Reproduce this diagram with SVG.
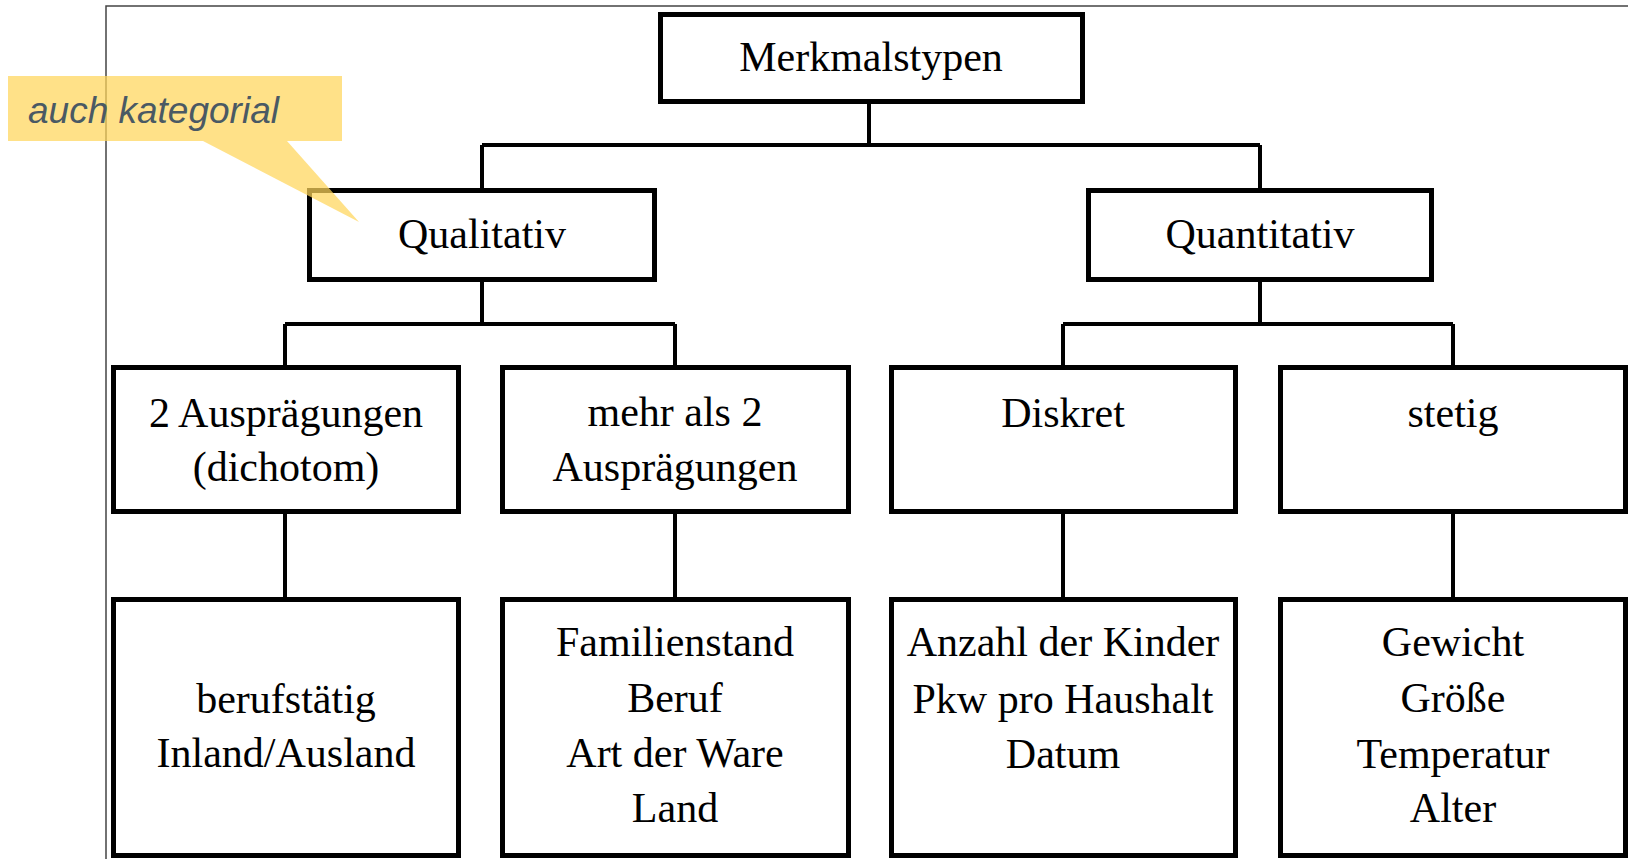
<svg xmlns="http://www.w3.org/2000/svg" width="1628" height="859" viewBox="0 0 1628 859">
<style>
.box{fill:#fff;stroke:#000;stroke-width:5}
.con{fill:none;stroke:#000;stroke-width:4}
.t{font-family:"Liberation Serif","Times New Roman",serif;font-size:42px;fill:#000;text-anchor:middle}
.frame{fill:none;stroke:#444;stroke-width:1.5}
</style>
<rect x="0" y="0" width="1628" height="859" fill="#fff"/>
<path class="frame" d="M106,859 V6 H1628"/>
<g id="connectors">
<path class="con" d="M869,104 V145 M482,145 H1260 M482,145 V188 M1260,145 V188"/>
<path class="con" d="M482,282 V324 M285,324 H675 M285,324 V365 M675,324 V365"/>
<path class="con" d="M1260,282 V324 M1063,324 H1453 M1063,324 V365 M1453,324 V365"/>
<path class="con" d="M285,514 V597 M675,514 V597 M1063,514 V597 M1453,514 V597"/>
</g>
<g id="merkmalstypen">
<rect class="box" x="660.5" y="14.5" width="422" height="87"/>
<text class="t" x="871" y="71">Merkmalstypen</text>
</g>
<g id="qualitativ">
<rect class="box" x="309.5" y="190.5" width="345" height="89"/>
<text class="t" x="482" y="248">Qualitativ</text>
</g>
<g id="quantitativ">
<rect class="box" x="1088.5" y="190.5" width="343" height="89"/>
<text class="t" x="1260" y="248">Quantitativ</text>
</g>
<g id="dichotom">
<rect class="box" x="113.5" y="367.5" width="345" height="144"/>
<text class="t" x="286" y="427">2 Ausprägungen</text>
<text class="t" x="286" y="481">(dichotom)</text>
</g>
<g id="mehr">
<rect class="box" x="502.5" y="367.5" width="346" height="144"/>
<text class="t" x="675" y="426">mehr als 2</text>
<text class="t" x="675" y="481">Ausprägungen</text>
</g>
<g id="diskret">
<rect class="box" x="891.5" y="367.5" width="344" height="144"/>
<text class="t" x="1063" y="427">Diskret</text>
</g>
<g id="stetig">
<rect class="box" x="1280.5" y="367.5" width="345" height="144"/>
<text class="t" x="1453" y="427">stetig</text>
</g>
<g id="bsp-dichotom">
<rect class="box" x="113.5" y="599.5" width="345" height="256"/>
<text class="t" x="286" y="713">berufstätig</text>
<text class="t" x="286" y="767">Inland/Ausland</text>
</g>
<g id="bsp-mehr">
<rect class="box" x="502.5" y="599.5" width="346" height="256"/>
<text class="t" x="675" y="656">Familienstand</text>
<text class="t" x="675" y="712">Beruf</text>
<text class="t" x="675" y="767">Art der Ware</text>
<text class="t" x="675" y="822">Land</text>
</g>
<g id="bsp-diskret">
<rect class="box" x="891.5" y="599.5" width="344" height="256"/>
<text class="t" x="1063" y="656">Anzahl der Kinder</text>
<text class="t" x="1063" y="713">Pkw pro Haushalt</text>
<text class="t" x="1063" y="768">Datum</text>
</g>
<g id="bsp-stetig">
<rect class="box" x="1280.5" y="599.5" width="345" height="256"/>
<text class="t" x="1453" y="656">Gewicht</text>
<text class="t" x="1453" y="712">Größe</text>
<text class="t" x="1453" y="768">Temperatur</text>
<text class="t" x="1453" y="822">Alter</text>
</g>
<g id="callout">
<path d="M8,76 H342 V141 H287 L359,222 L203,141 H8 Z" fill="#FFD55A" fill-opacity="0.72"/>
<text x="28" y="123" font-family="'Liberation Sans',Arial,sans-serif" font-size="37" font-style="italic" fill="#4a5964">auch kategorial</text>
</g>
</svg>
